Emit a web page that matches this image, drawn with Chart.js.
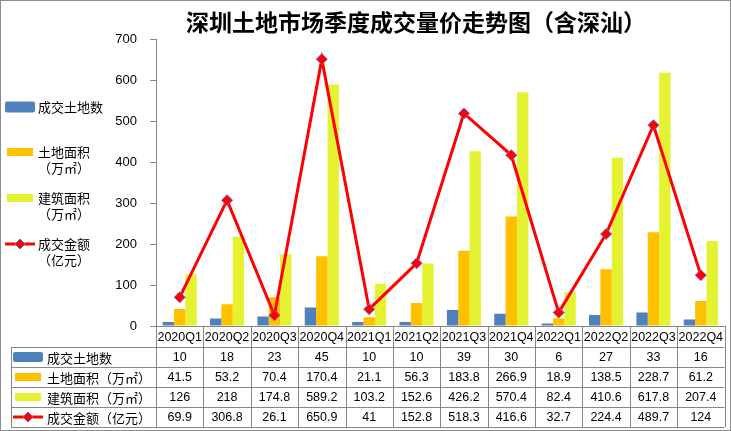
<!DOCTYPE html>
<html>
<head>
<meta charset="utf-8">
<script src="https://cdn.jsdelivr.net/npm/chart.js@4.4.1/dist/chart.umd.min.js"></script>
<style>
  html, body { margin: 0; padding: 0; background: #fff; }
  #wrap { width: 731px; height: 431px; position: relative; }
</style>
</head>
<body>
<div id="wrap"><canvas id="chart" width="731" height="431"></canvas></div>
<script>
const quarters = ['2020Q1', '2020Q2', '2020Q3', '2020Q4', '2021Q1', '2021Q2', '2021Q3', '2021Q4', '2022Q1', '2022Q2', '2022Q3', '2022Q4'];
const landCount = [10, 18, 23, 45, 10, 10, 39, 30, 6, 27, 33, 16];
const landArea = [41.5, 53.2, 70.4, 170.4, 21.1, 56.3, 183.8, 266.9, 18.9, 138.5, 228.7, 61.2];
const floorArea = [126, 218, 174.8, 589.2, 103.2, 152.6, 426.2, 570.4, 82.4, 410.6, 617.8, 207.4];
const dealAmount = [69.9, 306.8, 26.1, 650.9, 41, 152.8, 518.3, 416.6, 32.7, 224.4, 489.7, 124];
const yMin = 0, yMax = 700, yStep = 100;

const titleText = '深圳土地市场季度成交量价走势图（含深汕）';
const seriesNames = ['成交土地数', '土地面积（万㎡）', '建筑面积（万㎡）', '成交金额（亿元）'];
const legendLines = [['成交土地数'], ['土地面积', '（万㎡）'], ['建筑面积', '（万㎡）'], ['成交金额', '（亿元）']];

const BLUE = '#4F81BD';
const ORANGE = '#FFC000';
const YELLOW = '#E4F232';
const RED = '#FF0000';
const MARKER_EDGE = '#7E63B0';
const GRAY = '#868686';
const CJK = "'Noto Sans CJK SC', sans-serif";
const NUM = "'Liberation Sans', Arial, sans-serif";

// draw a legend key (swatch or line+diamond) centred at cx, cy
function drawKey(ctx, i, cx, cy, big) {
    if (i === 0) {
        const w = 30, h = big ? 11 : 10;
        ctx.fillStyle = BLUE;
        ctx.beginPath();
        ctx.roundRect(cx - w / 2, cy - h / 2, w, h, 2);
        ctx.fill();
    } else if (i === 1 || i === 2) {
        ctx.fillStyle = i === 1 ? ORANGE : YELLOW;
        ctx.fillRect(cx - 13, cy - 4, 26, 8);
    } else {
        ctx.strokeStyle = RED;
        ctx.lineWidth = 3;
        ctx.beginPath();
        ctx.moveTo(cx - 15, cy);
        ctx.lineTo(cx + 15, cy);
        ctx.stroke();
        ctx.fillStyle = RED;
        ctx.strokeStyle = MARKER_EDGE;
        ctx.lineWidth = 1;
        ctx.beginPath();
        ctx.moveTo(cx, cy - 5);
        ctx.lineTo(cx + 5, cy);
        ctx.lineTo(cx, cy + 5);
        ctx.lineTo(cx - 5, cy);
        ctx.closePath();
        ctx.fill();
        ctx.stroke();
    }
}

const extras = {
    id: 'extras',
    afterDraw(chart) {
        const ctx = chart.ctx;
        const x = chart.scales.x;
        const area = chart.chartArea;
        ctx.save();

        // title
        ctx.fillStyle = '#000';
        ctx.font = 'bold 23px ' + CJK;
        ctx.textAlign = 'center';
        ctx.textBaseline = 'middle';
        ctx.fillText(titleText, 416, 22);

        // left legend
        const legendY = [107, 152, 198, 244];
        legendLines.forEach((lines, i) => {
            drawKey(ctx, i, 20, legendY[i], true);
            ctx.fillStyle = '#000';
            ctx.font = '13px ' + CJK;
            ctx.textAlign = 'left';
            ctx.textBaseline = 'middle';
            lines.forEach((t, k) => ctx.fillText(t, 38, legendY[i] + k * 16));
        });

        // data table
        const half = (x.getPixelForValue(1) - x.getPixelForValue(0)) / 2;
        const right = area.right;
        const tableLeft = 11;
        const top = area.bottom, headBottom = top + 21, rowH = 20;
        const rows = [landCount, landArea, floorArea, dealAmount];
        const bottom = headBottom + rowH * rows.length;

        ctx.strokeStyle = GRAY;
        ctx.lineWidth = 1;
        ctx.beginPath();
        for (let r = 0; r <= rows.length; r++) {
            const yy = Math.round(headBottom + r * rowH) + 0.5;
            ctx.moveTo(tableLeft, yy);
            ctx.lineTo(right, yy);
        }
        ctx.moveTo(tableLeft + 0.5, headBottom);
        ctx.lineTo(tableLeft + 0.5, bottom);
        quarters.forEach((q, i) => {
            const xx = Math.round(x.getPixelForValue(i) - half) + 0.5;
            ctx.moveTo(xx, top);
            ctx.lineTo(xx, bottom);
        });
        ctx.moveTo(Math.round(right) + 0.5, top);
        ctx.lineTo(Math.round(right) + 0.5, bottom);
        ctx.stroke();

        ctx.fillStyle = '#000';
        ctx.textAlign = 'center';
        ctx.textBaseline = 'middle';
        ctx.font = '12.5px ' + NUM;
        quarters.forEach((q, i) => {
            ctx.fillText(q, x.getPixelForValue(i), (top + headBottom) / 2 + 1);
        });
        rows.forEach((vals, r) => {
            const cy = headBottom + r * rowH + rowH / 2 + 1;
            ctx.font = '12.5px ' + NUM;
            ctx.textAlign = 'center';
            vals.forEach((v, i) => ctx.fillText(String(v), x.getPixelForValue(i), cy));
            drawKey(ctx, r, 28, cy - 1, false);
            ctx.fillStyle = '#000';
            ctx.font = '13px ' + CJK;
            ctx.textAlign = 'left';
            ctx.fillText(seriesNames[r], 47, cy);
        });

        // outer frame
        ctx.strokeStyle = '#8C8C8C';
        ctx.lineWidth = 1;
        ctx.strokeRect(0.5, 0.5, chart.width - 1, chart.height - 1);
        ctx.restore();
    }
};

new Chart(document.getElementById('chart'), {
    type: 'bar',
    data: {
        labels: quarters,
        datasets: [
            { label: seriesNames[3], type: 'line', data: dealAmount, borderColor: RED, backgroundColor: RED,
              borderWidth: 3, pointStyle: 'rectRot', pointRadius: 5.5, pointBackgroundColor: RED,
              pointBorderColor: MARKER_EDGE, pointBorderWidth: 1, tension: 0, order: 0 },
            { label: seriesNames[0], data: landCount, backgroundColor: BLUE, order: 1 },
            { label: seriesNames[1], data: landArea, backgroundColor: ORANGE, order: 1 },
            { label: seriesNames[2], data: floorArea, backgroundColor: YELLOW, order: 1 }
        ]
    },
    options: {
        responsive: false,
        animation: false,
        devicePixelRatio: 1,
        layout: { padding: { left: 100, right: 5, top: 39, bottom: 105 } },
        datasets: { bar: { categoryPercentage: 0.72, barPercentage: 1.0 } },
        plugins: { legend: { display: false }, title: { display: false }, tooltip: { enabled: false } },
        scales: {
            x: {
                ticks: { display: false },
                grid: { display: false },
                border: { color: GRAY, width: 1 },
                afterFit: s => { s.height = 0; }
            },
            y: {
                min: yMin, max: yMax,
                ticks: { stepSize: yStep, color: '#000', padding: 13, font: { family: NUM, size: 13 } },
                grid: { drawOnChartArea: false, tickLength: 6, color: GRAY },
                border: { color: GRAY, width: 1 },
                afterFit: s => { s.width = 56; }
            }
        }
    },
    plugins: [extras]
});
</script>
</body>
</html>
